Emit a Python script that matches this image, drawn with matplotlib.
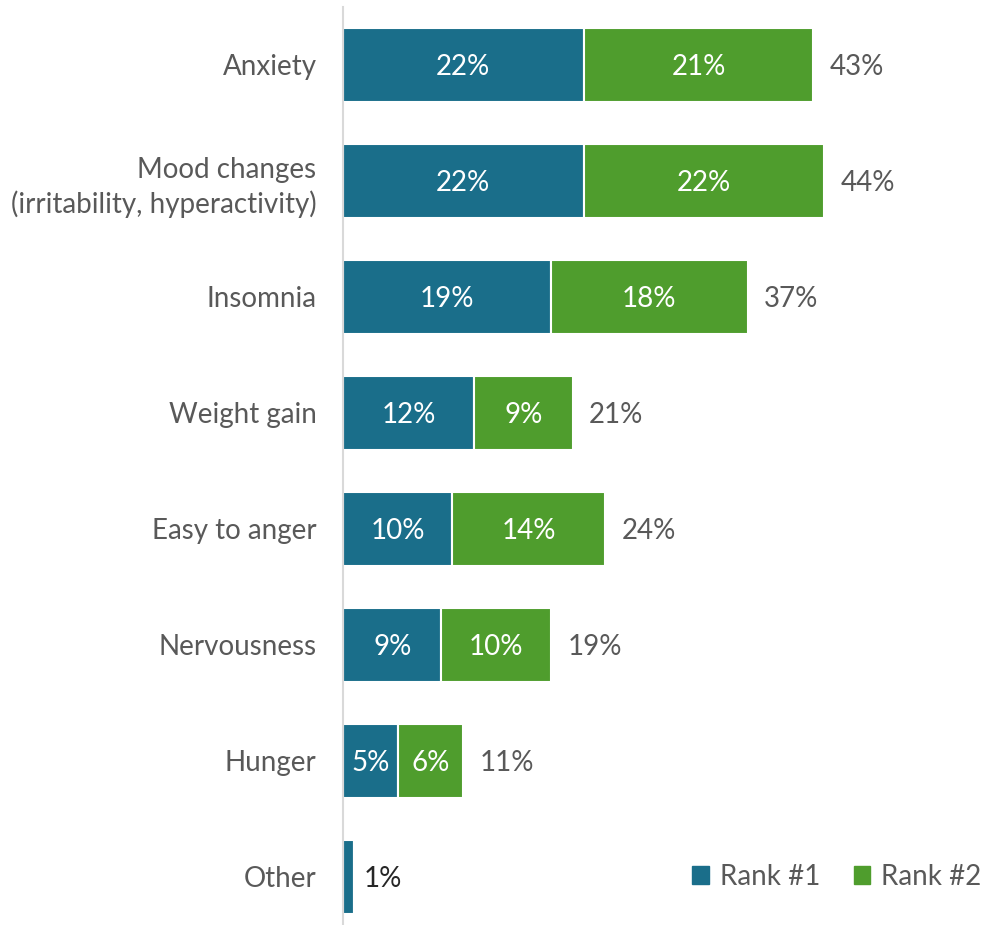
import matplotlib
matplotlib.use("Agg")
import matplotlib.pyplot as plt
from matplotlib.patches import Patch

plt.rcParams['font.family'] = ['Lato', 'DejaVu Sans']

categories = ["Anxiety", "Mood changes\n(irritability, hyperactivity)", "Insomnia",
              "Weight gain", "Easy to anger", "Nervousness", "Hunger", "Other"]
rank1 = [22, 22, 19, 12, 10, 9, 5, 1]
rank2 = [21, 22, 18, 9, 14, 10, 6, 0]
totals = [43, 44, 37, 21, 24, 19, 11, 1]

c1 = "#1A6E8A"
c2 = "#4F9D2D"
FS = 20

fig = plt.figure(figsize=(9.85, 9.25), dpi=100)
ax = fig.add_axes([343/985, 0, 1 - 343/985, 918/925])

y = list(range(len(categories)))
h = 0.63
ax.barh(y, rank1, height=h, color=c1, edgecolor="white", linewidth=1.5)
ax.barh(y, rank2, left=rank1, height=h, color=c2, edgecolor="white", linewidth=1.5)

for i in y:
    if rank2[i] > 0:
        ax.text(rank1[i] / 2, i, f"{rank1[i]}%", ha="center", va="center_baseline",
                color="white", fontsize=FS)
        ax.text(rank1[i] + rank2[i] / 2, i, f"{rank2[i]}%", ha="center", va="center_baseline",
                color="white", fontsize=FS)
        ax.text(totals[i] + 1.5, i, f"{totals[i]}%", ha="left", va="center_baseline",
                color="#595959", fontsize=FS)
    else:
        ax.text(totals[i] + 0.9, i, f"{totals[i]}%", ha="left", va="center_baseline",
                color="#262626", fontsize=FS)

ax.set_xlim(0, 58.7)
ax.set_ylim(7.414, -0.5)
ax.set_yticks(y)
ax.set_yticklabels(categories, fontsize=FS, color="#595959", linespacing=1.35)
ax.tick_params(axis="y", length=0, pad=19)
ax.set_xticks([])
for s in ["top", "right", "bottom"]:
    ax.spines[s].set_visible(False)
ax.spines["left"].set_color("#D9D9D9")
ax.spines["left"].set_linewidth(1.5)

handles = [Patch(color=c1, label="Rank #1"), Patch(color=c2, label="Rank #2")]
leg = fig.legend(handles=handles, loc="center right", bbox_to_anchor=(1.022, 1 - 877/925),
                 ncol=2, frameon=False, fontsize=FS, handlelength=0.6, handleheight=0.6,
                 handletextpad=0.4, columnspacing=1.2, labelcolor="#595959")

fig.savefig("out.png", dpi=100)
